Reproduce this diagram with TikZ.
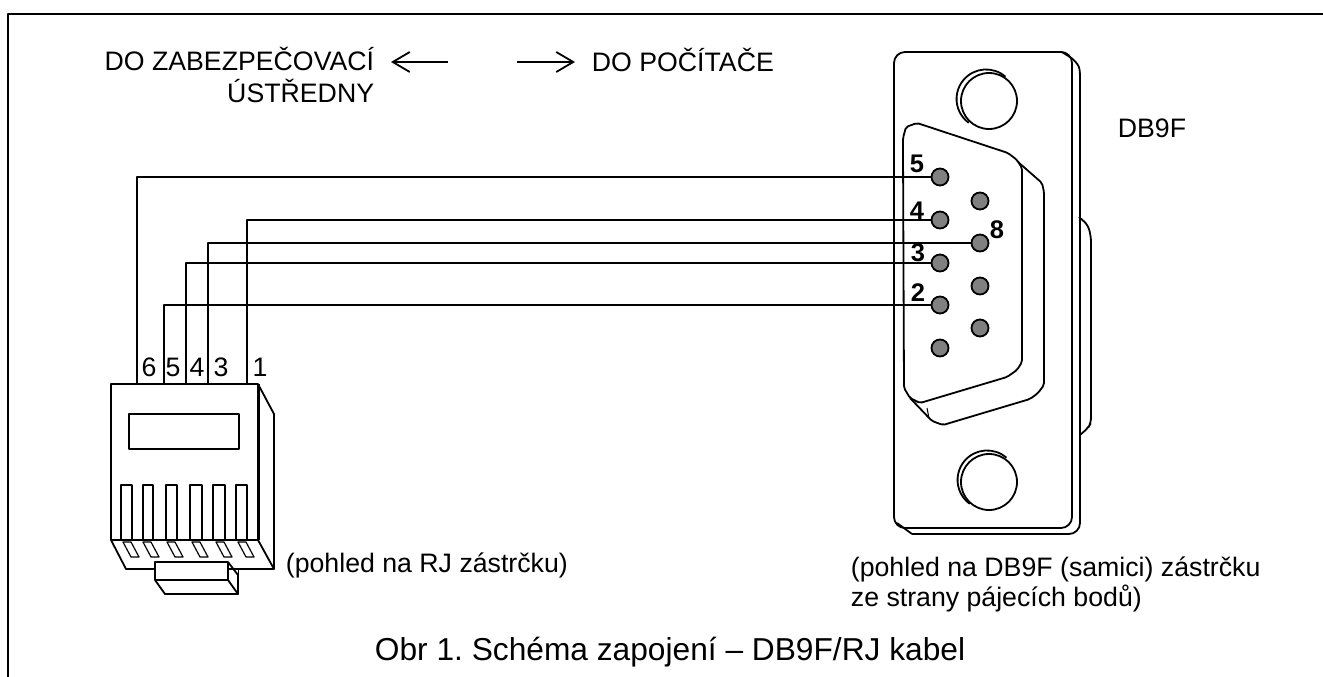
\documentclass[tikz,border=0pt]{standalone}
\usepackage{fontspec}
\setmainfont{Liberation Sans}
\usetikzlibrary{arrows.meta, positioning}
\frenchspacing

\begin{document}
\begin{tikzpicture}[
            x=1pt, y=-1pt,                     % reference pixels
            line width=1.8pt,
            line join=round,
            >={Straight Barb[length=17pt,width=20pt]},
            wire/.style={line width=1.6pt},
            dbpin/.style={circle,draw,fill=black!50,minimum size=17pt,inner sep=0pt},
            txt/.style={inner sep=0pt,font=\fontsize{26.7}{31.5}\selectfont},
            pinnum/.style={inner sep=0pt,font=\fontsize{25.5}{28}\selectfont\bfseries}
          ]
          \useasboundingbox (0,0) rectangle (1323,677);
          % frame
          \draw (8,677) -- (8,14) -- (1323,14);

          % headings
          \node[txt,align=right,anchor=north east] (tozab) at (375,46.3) {DO ZABEZPEČOVACÍ\\ÚSTŘEDNY};
          \node[txt,anchor=base west] (topc) at (591,71) {DO POČÍTAČE};
          \coordinate (arrl) at (448,62);
          \coordinate (arrltip) at (391,62);
          \coordinate (arrr) at (517,62);
          \coordinate (arrrtip) at (575,62);
          \draw[->] (arrl) -- (arrltip);
          \draw[->] (arrr) -- (arrrtip);
          \node[txt,anchor=base west] (dbname) at (1117,137) {DB9F};

          % DB9 plate, back edge then front
          \draw[rounded corners=3pt] (1062,52) -- (1073,59) -- (1079,66) -- (1080,73) -- (1080,520);
          \draw[rounded corners=11pt] (1080,505) -- (1080,534) -- (912,534);
          \draw (912,534) -- (897,523);
          \draw[rounded corners=11pt] (905,52) -- (1072,52) -- (1072,528) -- (894,528) -- (894,52) -- (915,52);
          % side bump
          \draw[rounded corners=5pt] (1079,217) -- (1088,225) -- (1091,237) -- (1091,423) -- (1088,428) -- (1080,435);

          % screws
          \draw (989,101) circle[radius=28pt];
          \draw (1005.4,76.7) arc[start angle=49,end angle=234,radius=29.5pt];
          \draw (989,482) circle[radius=28pt];
          \draw (1006.4,457.7) arc[start angle=49,end angle=234,radius=29.5pt];

          % D shell
          \draw[rounded corners=2pt] (903,150) -- (903,138) -- (906,127) -- (917,123) -- (1008,153) -- (1017,160) -- (1022,168)
                -- (1022,362) -- (1017,370) -- (1007,377) -- (920,403) -- (910,398) -- (904,388) -- cycle;
          \draw[rounded corners=2pt] (1018,162) -- (1042,183) -- (1044,192) -- (1044,385) -- (1038,393) -- (1030,399)
                -- (943,425) -- (932,421) -- (910,398);
          \draw[line width=1pt] (927,408) -- (929,418);

          % pins of DB9
          \node[dbpin] (pin5) at (940,177) {};
          \node[dbpin] (pin4) at (940,220) {};
          \node[dbpin] (pin3) at (940,263) {};
          \node[dbpin] (pin2) at (940,305) {};
          \node[dbpin] (pin1) at (940,348) {};
          \node[dbpin] (pin9) at (980,201) {};
          \node[dbpin] (pin8) at (980,243) {};
          \node[dbpin] (pin7) at (980,286) {};
          \node[dbpin] (pin6) at (980,328) {};

          \node[pinnum] (num5) at (917,164) {5};
          \node[pinnum] (num4) at (917,211) {4};
          \node[pinnum] (num3) at (918,253) {3};
          \node[pinnum] (num2) at (918,293) {2};
          \node[pinnum] (num8) at (997,230) {8};

          % RJ plug
          \draw (111,384) rectangle (258,540);
          \draw[line width=3pt] (258,384) -- (258,540);
          \draw (258,384) -- (274,414) -- (274,569) -- (258,540);
          \draw (111,540) -- (126,569) -- (155,569);
          \draw (228,569) -- (274,569);
          \draw (129,414) rectangle (239,449);
          \foreach \xa/\xb in {121/132,143/153,166/177,190/202,213/225,236/247}
            \draw (\xa,540) -- (\xa,485) -- (\xb,485) -- (\xb,540);
          \foreach \xa in {123,143,167,192,216,238}
            \draw[line width=1.2pt] (\xa,542) -- ++(8,0) -- ++(8,15) -- ++(-8,0) -- cycle;
          % clip of the plug
          \draw[fill=white] (155,562) rectangle (228,580);
          \draw (155,580) -- (165,594) -- (238,594) -- (228,580);
          \draw (228,562) -- (238,575) -- (238,594);
          \draw[line width=1pt] (238,570) -- (238,575);

          % wires
          \coordinate (rj6) at (137,384);
          \coordinate (rj5) at (164,384);
          \coordinate (rj4) at (186,384);
          \coordinate (rj3) at (208,384);
          \coordinate (rj1) at (247,384);
          \draw[wire] (rj6) |- (pin5);
          \draw[wire] (rj5) |- (pin2);
          \draw[wire] (rj4) |- (pin3);
          \draw[wire] (rj3) |- (pin8);
          \draw[wire] (rj1) |- (pin4);

          \node[txt] (lab6) at (149,367) {6};
          \node[txt] (lab5) at (173,367) {5};
          \node[txt] (lab4) at (197,367) {4};
          \node[txt] (lab3) at (221,367) {3};
          \node[txt] (lab1) at (260,367) {1};

          % captions
          \node[txt,anchor=base west] (rjnote) at (285,572) {(pohled na RJ zástrčku)};
          \node[txt,align=left,anchor=north west,font=\fontsize{26.7}{30}\selectfont] (dbnote) at (850,555.5) {(pohled na DB9F (samici) zástrčku\\ze strany pájecích bodů)};
          \node[txt,anchor=base west,font=\fontsize{31.7}{36}\selectfont] (title) at (374,660) {Obr 1. Schéma zapojení – DB9F/RJ kabel};
        \end{tikzpicture}
\end{document}
